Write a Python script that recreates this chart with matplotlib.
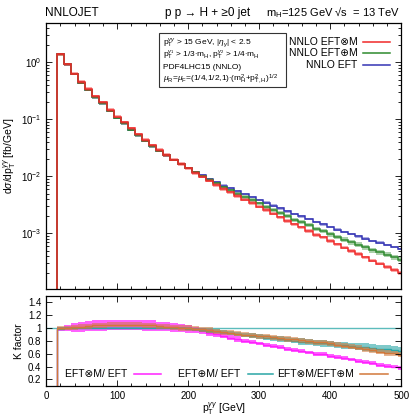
import matplotlib
matplotlib.use("Agg")
import matplotlib.pyplot as plt
import numpy as np
from matplotlib.ticker import LogLocator, MultipleLocator, NullFormatter

plt.rcParams["font.family"] = ["Liberation Sans", "DejaVu Sans"]
plt.rcParams["mathtext.fontset"] = "custom"
plt.rcParams["mathtext.rm"] = "Liberation Sans"
plt.rcParams["mathtext.it"] = "Liberation Sans:italic"
plt.rcParams["mathtext.bf"] = "Liberation Sans:bold"

# ── Data ─────────────────────────────────────────────────────────────────────
# 10 GeV bins in pT(γγ), first bin 15-25 GeV
bin_edges = np.arange(15, 506, 10)

# NNLO EFT cross section per bin [fb/GeV]
xs_eft = [
    1.40, 0.923, 0.631, 0.442, 0.331, 0.245, 0.191, 0.141, 0.107, 0.0851,
    0.0661, 0.0525, 0.0417, 0.0339, 0.0282, 0.0234, 0.0195, 0.0166, 0.0141, 0.0120,
    0.0105, 0.00912, 0.00794, 0.00692, 0.00617, 0.00550, 0.00490, 0.00437, 0.00389, 0.00347,
    0.00309, 0.00275, 0.00245, 0.00219, 0.00200, 0.00178, 0.00158, 0.00145, 0.00129, 0.00117,
    0.00107, 0.000977, 0.000891, 0.000813, 0.000741, 0.000692, 0.000631, 0.000575, 0.000537,
]

# K factors: EFT⊗M / EFT and EFT⊕M / EFT
k_mult = [
    0.99, 1.00, 1.01, 1.02, 1.03, 1.04, 1.04, 1.05, 1.05, 1.05,
    1.05, 1.05, 1.04, 1.04, 1.03, 1.02, 1.01, 1.00, 0.99, 0.97,
    0.95, 0.93, 0.90, 0.88, 0.85, 0.83, 0.80, 0.78, 0.76, 0.74,
    0.72, 0.70, 0.68, 0.66, 0.64, 0.62, 0.60, 0.59, 0.57, 0.55,
    0.53, 0.51, 0.49, 0.47, 0.45, 0.43, 0.41, 0.40, 0.38,
]
k_add = [
    0.99, 1.00, 1.00, 1.00, 1.00, 1.00, 1.00, 1.00, 1.00, 1.00,
    1.00, 1.00, 1.00, 1.00, 1.00, 1.00, 1.00, 1.00, 0.99, 0.98,
    0.97, 0.96, 0.95, 0.94, 0.92, 0.91, 0.89, 0.88, 0.87, 0.85,
    0.84, 0.83, 0.82, 0.80, 0.79, 0.78, 0.77, 0.76, 0.75, 0.74,
    0.73, 0.72, 0.71, 0.70, 0.69, 0.68, 0.67, 0.66, 0.65,
]

# scale-variation half widths of the K factors
dk_mult = [
    0.03, 0.05, 0.07, 0.08, 0.08, 0.08, 0.08, 0.08, 0.08, 0.08,
    0.08, 0.08, 0.08, 0.08, 0.07, 0.07, 0.07, 0.06, 0.06, 0.05,
    0.05, 0.05, 0.04, 0.04, 0.04, 0.04, 0.03, 0.03, 0.03, 0.03,
    0.03, 0.03, 0.03, 0.03, 0.03, 0.03, 0.03, 0.03, 0.03, 0.03,
    0.03, 0.03, 0.03, 0.03, 0.03, 0.03, 0.03, 0.03, 0.03,
]
dk_add = [
    0.02, 0.02, 0.02, 0.02, 0.02, 0.02, 0.02, 0.02, 0.02, 0.02,
    0.02, 0.02, 0.02, 0.02, 0.02, 0.02, 0.02, 0.02, 0.02, 0.02,
    0.03, 0.03, 0.03, 0.03, 0.03, 0.03, 0.03, 0.04, 0.04, 0.04,
    0.04, 0.04, 0.04, 0.04, 0.05, 0.05, 0.05, 0.05, 0.05, 0.05,
    0.05, 0.05, 0.05, 0.06, 0.06, 0.06, 0.06, 0.06, 0.06,
]
dk_ratio = [
    0.03, 0.03, 0.04, 0.04, 0.04, 0.04, 0.04, 0.04, 0.04, 0.04,
    0.04, 0.04, 0.04, 0.04, 0.04, 0.04, 0.04, 0.04, 0.04, 0.04,
    0.04, 0.04, 0.04, 0.04, 0.04, 0.04, 0.04, 0.04, 0.04, 0.04,
    0.04, 0.04, 0.04, 0.04, 0.04, 0.04, 0.04, 0.04, 0.04, 0.04,
    0.04, 0.04, 0.04, 0.04, 0.04, 0.04, 0.04, 0.04, 0.04,
]

# relative scale bands of the three cross sections
rel_eft = 0.05
rel_add = [
    0.05, 0.05, 0.05, 0.05, 0.05, 0.05, 0.05, 0.05, 0.05, 0.05,
    0.05, 0.05, 0.05, 0.05, 0.05, 0.05, 0.05, 0.05, 0.05, 0.05,
    0.06, 0.06, 0.06, 0.06, 0.06, 0.06, 0.07, 0.07, 0.07, 0.07,
    0.07, 0.08, 0.08, 0.08, 0.08, 0.08, 0.09, 0.09, 0.09, 0.09,
    0.09, 0.10, 0.10, 0.10, 0.10, 0.10, 0.10, 0.10, 0.10,
]
rel_mult = 0.07

xs_eft = np.array(xs_eft)
k_mult = np.array(k_mult)
k_add = np.array(k_add)
xs_mult = xs_eft * k_mult
xs_add = xs_eft * k_add
k_ratio = k_mult / k_add

# ── Figure ───────────────────────────────────────────────────────────────────
fig = plt.figure(figsize=(4.12, 4.18), dpi=100)
ax = fig.add_axes([0.112, 0.309, 0.862, 0.637])
axk = fig.add_axes([0.112, 0.077, 0.862, 0.215])

C_RED, C_GREEN, C_BLUE = "#f02828", "#2e8a2e", "#3434b4"
C_MAG, C_TEAL, C_ORA = "#ff20ff", "#2aa6a6", "#d2783a"

floor = 1e-6
for xs, rel, col in [(xs_eft, rel_eft, C_BLUE),
                     (xs_add, np.array(rel_add), C_GREEN),
                     (xs_mult, rel_mult, C_RED)]:
    ax.stairs(xs * (1 + rel), bin_edges, baseline=xs * (1 - rel), fill=True,
              color=col, alpha=0.4, lw=0)
    ax.stairs(xs, bin_edges, baseline=floor, color=col, lw=1.1)

ax.set_yscale("log")
ax.set_xlim(0, 500)
ax.set_ylim(1.07e-4, 5.0)
ax.yaxis.set_major_locator(LogLocator(base=10, numticks=10))
ax.yaxis.set_minor_locator(LogLocator(base=10, subs=np.arange(2, 10), numticks=20))
ax.yaxis.set_minor_formatter(NullFormatter())
ax.xaxis.set_major_locator(MultipleLocator(100))
ax.xaxis.set_minor_locator(MultipleLocator(20))
ax.tick_params(axis="x", labelbottom=False)
ax.set_ylabel(r"d$\sigma$/dp$_\mathrm{T}^{\gamma\gamma}$ [fb/GeV]", fontsize=7.5, labelpad=2)

# legend, text right-aligned with the line sample after it
leg_rows = [("NNLO EFT⊗M", C_RED, 0.928),
            ("NNLO EFT⊕M", C_GREEN, 0.884),
            ("NNLO EFT", C_BLUE, 0.841)]
for label, col, yy in leg_rows:
    ax.text(0.876, yy, label, transform=ax.transAxes, ha="right", va="center",
            fontsize=7.5)
    ax.plot([0.893, 0.969], [yy, yy], transform=ax.transAxes, color=col, lw=1.1)

info = [
    r"p$_\mathrm{T}^{\gamma\gamma}$ > 15 GeV, |$\eta_\gamma$| < 2.5",
    r"p$_\mathrm{T}^{\gamma_1}$ > 1/3$\cdot$m$_\mathrm{H}$, p$_\mathrm{T}^{\gamma_2}$ > 1/4$\cdot$m$_\mathrm{H}$",
    "PDF4LHC15 (NNLO)",
    r"$\mu_\mathrm{R}$=$\mu_\mathrm{F}$=(1/4,1/2,1)$\cdot$(m$_\mathrm{H}^2$+p$_\mathrm{T,H}^2$)$^{1/2}$",
]
for i, line in enumerate(info):
    ax.text(0.330, 0.924 - i * 0.046, line, transform=ax.transAxes,
            ha="left", va="center", fontsize=6)
ax.add_patch(plt.Rectangle((0.318, 0.759), 0.358, 0.202, transform=ax.transAxes,
                           fill=False, lw=0.8, ec="#333333"))

# ── K factor panel ───────────────────────────────────────────────────────────
axk.axhline(1.0, color="#5cbcbc", lw=1.0, zorder=1)
for k, dk, col, al in [(k_mult, np.array(dk_mult), C_MAG, 0.7),
                       (k_add, np.array(dk_add), C_TEAL, 0.6),
                       (k_ratio, np.array(dk_ratio), C_ORA, 0.55)]:
    axk.stairs(k + dk, bin_edges, baseline=k - dk, fill=True,
               color=col, alpha=al, lw=0)
    axk.stairs(k, bin_edges, baseline=0.0, color=col, lw=1.0)

axk.set_xlim(0, 500)
axk.set_ylim(0.1, 1.5)
axk.yaxis.set_major_locator(MultipleLocator(0.2))
axk.yaxis.set_major_formatter(lambda v, p: f"{v:g}")
axk.xaxis.set_major_locator(MultipleLocator(100))
axk.xaxis.set_minor_locator(MultipleLocator(20))
axk.set_ylabel("K factor", fontsize=7.5, labelpad=3)
axk.set_xlabel(r"p$_\mathrm{T}^{\gamma\gamma}$ [GeV]", fontsize=7.5, labelpad=0)

k_rows = [("EFT⊗M/ EFT", C_MAG, 0.229, 0.246, 0.324),
          ("EFT⊕M/ EFT", C_TEAL, 0.546, 0.569, 0.640),
          ("EFT⊗M/EFT⊕M", C_ORA, 0.868, 0.885, 0.963)]
for label, col, xt, x0, x1 in k_rows:
    axk.text(xt, 0.13, label, transform=axk.transAxes, ha="right", va="center",
             fontsize=7.5)
    axk.plot([x0, x1], [0.13, 0.13], transform=axk.transAxes, color=col, lw=1.1)

for a in (ax, axk):
    a.tick_params(which="both", direction="in", top=True, right=True,
                  labelsize=7, width=0.6)
    a.tick_params(which="major", length=4)
    a.tick_params(which="minor", length=2)
    for s in a.spines.values():
        s.set_linewidth(0.9)

fig.text(0.109, 0.969, "NNLOJET", ha="left", va="center", fontsize=8.5)
fig.text(0.505, 0.969, "p p → H + ≥0 jet", ha="center", va="center", fontsize=8.5)
fig.text(0.645, 0.969, r"m$_\mathrm{H}$=125 GeV √s  = 13 TeV",
         ha="left", va="center", fontsize=8)

fig.savefig("out.png", dpi=100)
